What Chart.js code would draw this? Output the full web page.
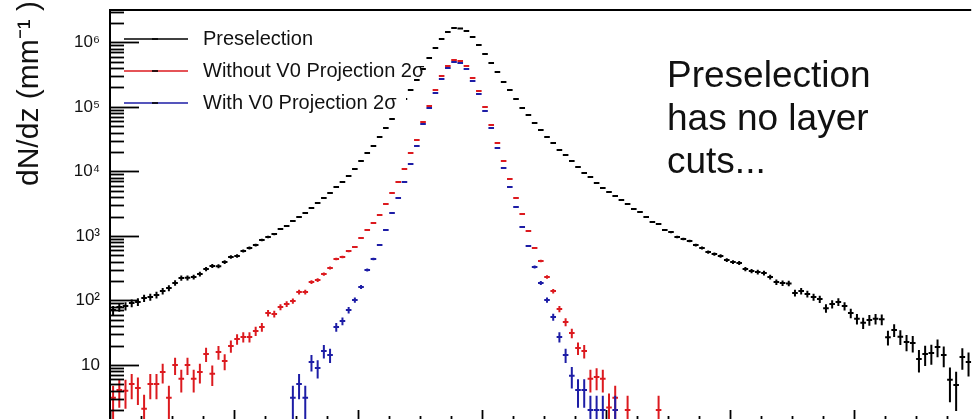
<!DOCTYPE html>
<html>
<head>
<meta charset="utf-8">
<script src="https://cdn.jsdelivr.net/npm/chart.js@4.4.1/dist/chart.umd.min.js"></script>
<style>
  html, body { margin: 0; padding: 0; background: #fff; overflow: hidden; }
  #wrap { position: relative; width: 976px; height: 440px; }
  #note {
    position: absolute; left: 667px; top: 53px;
    font: 37px "Liberation Sans", Arial, sans-serif; line-height: 43px;
    color: #111; white-space: nowrap;
  }
</style>
</head>
<body>
<div id="wrap">
  <canvas id="chart" width="976" height="440"></canvas>
  <div id="note">Preselection<br>has no layer<br>cuts...</div>
</div>
<script>
// Histogram contents, one value per bin (dN/dz in mm^-1).
// The z labels are cut off in the original, so bins are just numbered from the left edge.
const preselection = [
  71, 79, 82, 91, 95, 109, 113, 122, 140, 156,
  187, 223, 224, 231, 257, 307, 342, 340, 394, 471,
  489, 584, 650, 723, 865, 962, 1071, 1280, 1424, 1703,
  1964, 2265, 2707, 3236, 3868, 4624, 5728, 6846, 8478, 10880,
  14480, 19270, 24740, 34080, 46990, 64780, 89330, 132300, 182300, 260500,
  385800, 571000, 815600, 1125000, 1444000, 1665000, 1640000, 1496000, 1208000, 908100,
  658600, 477800, 346500, 242600, 182300, 132300, 95920, 74700, 56170, 43770,
  34080, 27530, 21440, 17940, 14480, 11690, 9439, 8182, 6605, 5526,
  4793, 4154, 3602, 3123, 2613, 2348, 1964, 1643, 1530, 1235,
  1150, 962, 896, 834, 723, 650, 563, 525, 489, 424,
  394, 381, 307, 286, 276, 266, 231, 193, 186, 184,
  131, 140, 126, 113, 105, 76, 88, 95, 82, 64,
  52, 45, 50, 52, 51, 27, 35, 27.5, 22.7, 21.9,
  12.4, 14.8, 15.3, 19, 14.3, 5.9, 4.9, 13.3, 11.1
];
const preselectionStart = 0;

const withoutV0 = [
  3.1, 4.1, 4.0, 5.1, 4.4, 2.1, 5.1, 5.1, 7.8, 3.1,
  10.0, 6.1, 10.0, 6.1, 7.8, 14.8, 7.3, 15.9, 11.5, 19.7,
  25.3, 27.2, 27.2, 33.6, 38.8, 63.9, 61.7, 79.2, 88.1, 98.1,
  135, 135, 193, 207, 257, 318, 439, 471, 584, 673,
  928, 1235, 1585, 2109, 3123, 4624, 6846, 10880, 19270, 30630,
  58210, 103000, 182300, 300500, 429300, 531800, 513200, 429300, 279800, 176000,
  99400, 52300, 27530, 14480, 7617, 3868, 2186, 1192, 650, 409,
  231, 140, 73.7, 46.4, 31.3, 18.3, 16.5, 6.1, 6.5, 6.1,
  2.2, 3.1, null, 2.0, null, null, null, null, 2.0
];
const withoutV0Start = 0;

const withV0 = [
  3.1, 5.1, 3.1, 11.1, 9.0, 16.5, 14.3, 38.8, 48, 71, 102,
  162, 297, 439, 723, 1235, 2265, 3868, 6846, 13010, 24740,
  54200, 95920, 163900, 270000, 399700, 495200, 477800, 385800, 251400, 158100,
  86210, 46990, 23030, 11280, 5728, 2805, 1375, 698, 330, 187,
  102, 55.4, 27.2, 14.3, 6.8, 4.1, 4.1, 2.0, 2.0, 2.0,
  null, 2.0
];
const withV0Start = 29;

const legendNames = ['Preselection', 'Without V0 Projection 2\u03c3', 'With V0 Projection 2\u03c3'];
const seriesColors = ['#000000', '#dc1a1f', '#1d1da6'];
// weight of one entry, sets the size of the Poisson error bars
const entryWeights = [1.8, 0.9, 0.9];

// axis ranges
const yMin = 1.176;
const yMax = 3.17e6;
const xMax = 138.93;
const decadeLabels = { 1: '10', 2: '10\u00b2', 3: '10\u00b3', 4: '10\u2074', 5: '10\u2075', 6: '10\u2076' };
const yTitle = 'dN/dz (mm\u207b\u00b9 )';

const FONT = '"Liberation Sans", Arial, sans-serif';
Chart.defaults.font.family = FONT;

function toPoints(values, start) {
  const pts = [];
  values.forEach(function(v, i) {
    if (v !== null) pts.push({ x: start + i + 0.5, y: v });
  });
  return pts;
}

function makeSet(k, values, start) {
  return {
    label: legendNames[k],
    data: toPoints(values, start),
    showLine: false,
    pointStyle: 'line',
    pointRadius: 2.8,
    pointHoverRadius: 2.8,
    pointBorderWidth: 2,
    borderColor: seriesColors[k],
    backgroundColor: seriesColors[k],
    entryWeight: entryWeights[k]
  };
}

// ROOT-like decorations: error bars, inward ticks, frame, legend box, axis title
const rootStyle = {
  id: 'rootStyle',
  afterDatasetsDraw(chart) {
    const ctx = chart.ctx;
    const a = chart.chartArea;
    const x = chart.scales.x, y = chart.scales.y;

    ctx.save();
    ctx.beginPath();
    ctx.rect(a.left, a.top, a.right - a.left, a.bottom - a.top);
    ctx.clip();
    chart.data.datasets.forEach(function(ds, di) {
      const meta = chart.getDatasetMeta(di);
      ctx.strokeStyle = ds.borderColor;
      ctx.lineWidth = 2;
      meta.data.forEach(function(pt, j) {
        const v = ds.data[j].y;
        const err = Math.sqrt(v * ds.entryWeight);
        const top = y.getPixelForValue(v + err);
        const bot = v - err > yMin ? y.getPixelForValue(v - err) : a.bottom + 5;
        ctx.beginPath();
        ctx.moveTo(pt.x, top);
        ctx.lineTo(pt.x, bot);
        ctx.stroke();
      });
    });
    ctx.restore();

    // legend (white box hides the points behind it)
    ctx.save();
    ctx.fillStyle = '#fff';
    ctx.fillRect(a.left + 1, a.top + 1, 406 - a.left - 1, 116 - a.top - 1);
    legendNames.forEach(function(name, k) {
      const ly = 39 + k * 32;
      ctx.strokeStyle = seriesColors[k];
      ctx.lineWidth = 1.6;
      ctx.beginPath();
      ctx.moveTo(124, ly);
      ctx.lineTo(188, ly);
      ctx.stroke();
      ctx.strokeStyle = '#000';
      ctx.beginPath();
      ctx.moveTo(152, ly);
      ctx.lineTo(158, ly);
      ctx.stroke();
      ctx.fillStyle = '#111';
      ctx.font = '20px ' + FONT;
      ctx.textBaseline = 'middle';
      ctx.fillText(name, 203, ly);
    });
    ctx.restore();

    // frame and ticks
    ctx.save();
    ctx.strokeStyle = '#000';
    ctx.lineWidth = 2;
    ctx.beginPath();
    ctx.moveTo(a.left, a.bottom);
    ctx.lineTo(a.left, a.top);
    ctx.lineTo(a.right, a.top);
    ctx.stroke();

    ctx.lineWidth = 1.8;
    for (let e = 0; e <= 6; e++) {
      for (let m = 1; m <= 9; m++) {
        const v = m * Math.pow(10, e);
        if (v < yMin || v > yMax) continue;
        const py = Math.round(y.getPixelForValue(v)) + 0.5;
        ctx.beginPath();
        ctx.moveTo(a.left, py);
        ctx.lineTo(a.left + (m === 1 ? 29 : 14), py);
        ctx.stroke();
      }
    }
    for (let t = 0; t <= xMax; t += 5) {
      const px = Math.round(x.getPixelForValue(t)) + 0.5;
      ctx.beginPath();
      ctx.moveTo(px, a.bottom);
      ctx.lineTo(px, a.bottom - (t % 20 === 0 ? 15 : 9));
      ctx.stroke();
    }

    // y axis title, right-aligned to the top like ROOT does
    ctx.translate(30, 1);
    ctx.rotate(-Math.PI / 2);
    ctx.fillStyle = '#111';
    ctx.font = '30px ' + FONT;
    ctx.textAlign = 'right';
    ctx.textBaseline = 'middle';
    ctx.fillText(yTitle, 0, 0);
    ctx.restore();
  }
};

const ctx = document.getElementById('chart').getContext('2d');
const chart = new Chart(ctx, {
  type: 'scatter',
  data: {
    datasets: [
      makeSet(0, preselection, preselectionStart),
      makeSet(1, withoutV0, withoutV0Start),
      makeSet(2, withV0, withV0Start)
    ]
  },
  options: {
    responsive: false,
    animation: false,
    events: [],
    layout: { padding: { top: 10, bottom: 15, left: 0, right: 0 } },
    plugins: { legend: { display: false }, tooltip: { enabled: false } },
    scales: {
      x: { type: 'linear', display: false, min: 0, max: xMax },
      y: {
        type: 'logarithmic',
        min: yMin,
        max: yMax,
        afterFit: function(scale) {
          scale.width = 110;
          scale.paddingTop = 0;
          scale.paddingBottom = 0;
        },
        border: { display: false },
        grid: { display: false, drawTicks: false },
        ticks: {
          autoSkip: false,
          padding: 10,
          color: '#111',
          font: { size: 17 },
          callback: function(value) {
            const e = Math.log10(value);
            const r = Math.round(e);
            if (Math.abs(e - r) < 1e-6 && decadeLabels[r]) return decadeLabels[r];
            return null;
          }
        }
      }
    }
  },
  plugins: [rootStyle]
});
</script>
</body>
</html>
